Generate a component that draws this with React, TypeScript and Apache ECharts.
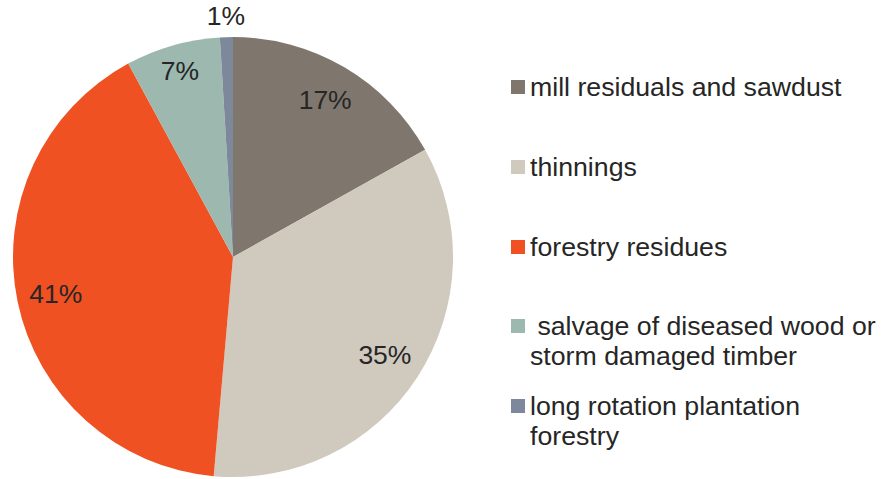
import React, { useEffect, useRef } from "react";
import * as echarts from "echarts";

const categories = [
  "mill residuals and sawdust",
  "thinnings",
  "forestry residues",
  " salvage of diseased wood or storm damaged timber",
  "long rotation plantation forestry",
];
const legendLabels = [
  "mill residuals and sawdust",
  "thinnings",
  "forestry residues",
  " salvage of diseased wood or\nstorm damaged timber",
  "long rotation plantation\nforestry",
];
const shares = [16.9, 34.5, 40.7, 6.95, 0.95];
const colors = ["#7f776d", "#d0c9be", "#ef5123", "#9db9af", "#7d889a"];

const TEXT = "#262626";
const FONT = "'Liberation Sans', Arial, sans-serif";

export default function App() {
  const ref = useRef<HTMLDivElement>(null);
  useEffect(() => {
    if (!ref.current) return;
    const chart = echarts.init(ref.current, undefined, { renderer: "svg" });
    const center = [233, 257];
    const R = 220;
    const labelRadius = [179, 178, 178, 190, 238];
    const legendCenters = [87, 167, 247, 326, 406];
    const data = categories.map((name, i) => ({
      name,
      value: shares[i],
      itemStyle: { color: colors[i] },
    }));
    const pctFmt = (p: any) => Math.round(p.percent) + "%";
    const legends = categories.map((name, i) => {
      const multi = legendLabels[i].includes("\n");
      return {
        data: [name],
        orient: "vertical",
        left: 511,
        top: multi ? legendCenters[i] - 45 : legendCenters[i] - 15,
        padding: 0,
        itemWidth: 14,
        itemHeight: 14,
        itemGap: 0,
        icon: "rect",
        selectedMode: false,
        formatter: () => (multi ? "\n" + legendLabels[i] : legendLabels[i]),
        textStyle: {
          fontSize: 26.7,
          fontFamily: FONT,
          color: TEXT,
          lineHeight: 30,
        },
      };
    });
    const labelSeries = categories.map((_, k) => ({
      type: "pie",
      center,
      radius: [labelRadius[k] - 20, labelRadius[k] + 20],
      startAngle: 90,
      clockwise: true,
      data: categories.map((name, i) => ({
        name,
        value: shares[i],
        itemStyle: { color: "rgba(0,0,0,0)" },
        label: { show: i === k },
      })),
      label: {
        show: true,
        position: "inside",
        formatter: pctFmt,
        fontSize: 26.5,
        fontFamily: FONT,
        color: TEXT,
      },
      labelLine: { show: false },
      emphasis: { disabled: true },
      silent: true,
      legendHoverLink: false,
      avoidLabelOverlap: false,
    }));
    chart.setOption({
      animation: false,
      backgroundColor: "#ffffff",
      legend: legends,
      series: [
        {
          type: "pie",
          center,
          radius: [0, R],
          startAngle: 90,
          clockwise: true,
          data,
          label: { show: false },
          labelLine: { show: false },
          emphasis: { disabled: true },
          silent: true,
        },
        ...labelSeries,
      ],
    });
    return () => chart.dispose();
  }, []);
  return (
    <div
      ref={ref}
      style={{ position: "absolute", left: 0, top: 0, width: 885, height: 479 }}
    />
  );
}
